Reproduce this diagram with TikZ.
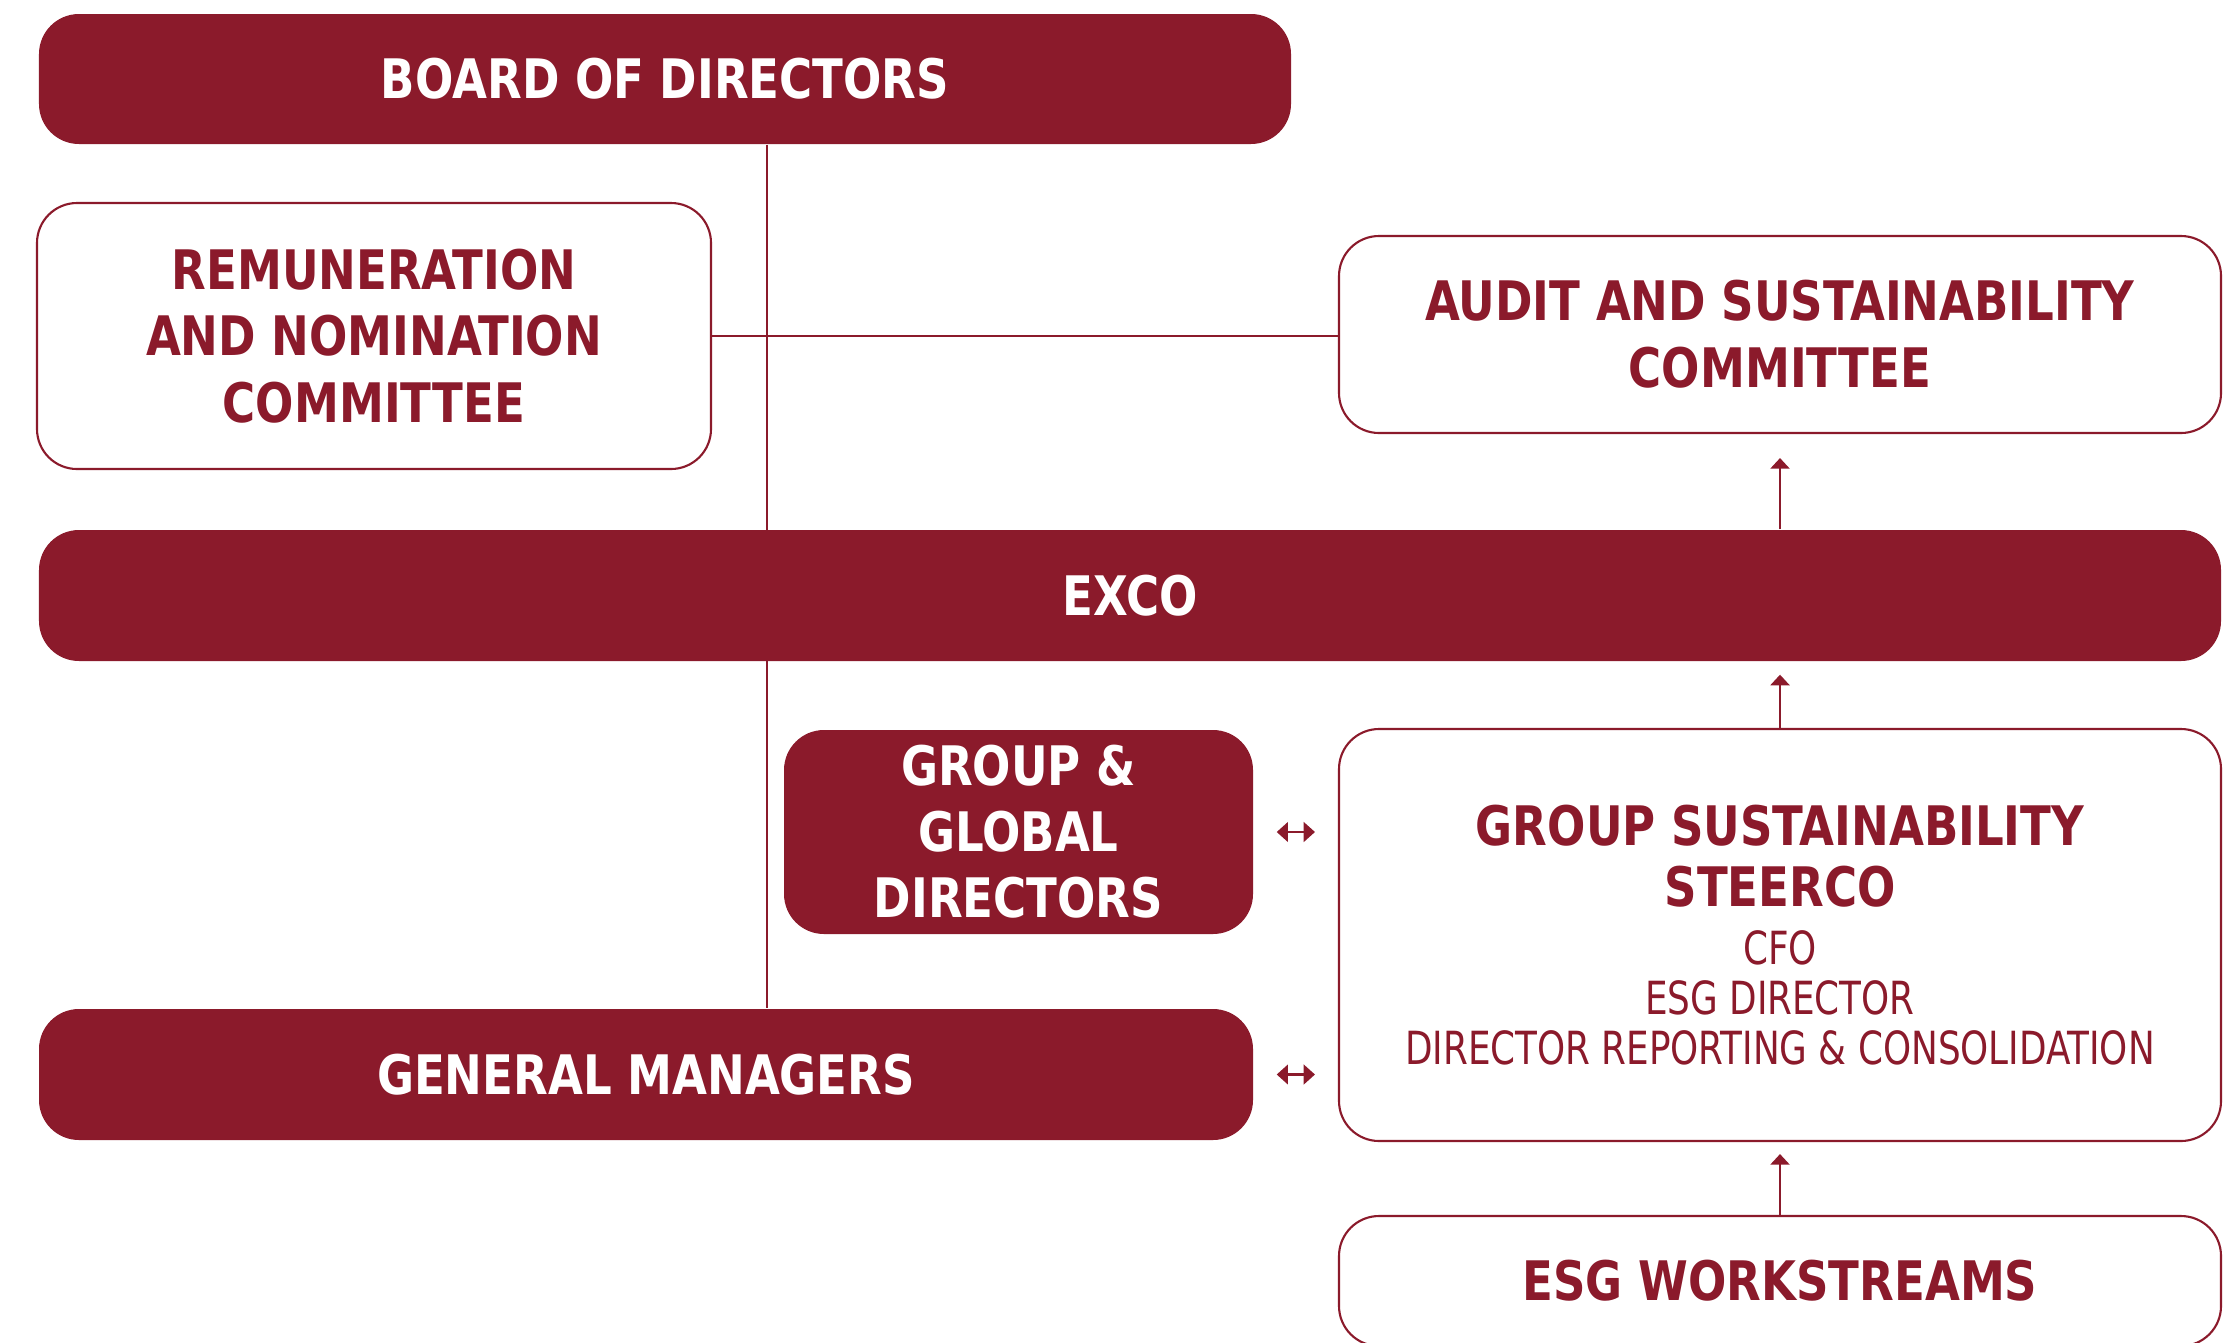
\documentclass[tikz,border=0pt]{standalone}
\usepackage{fontspec}
\setmainfont{DejaVu Sans Condensed}[FakeStretch=0.92]
\newfontfamily\namesfont{DejaVu Sans Condensed}[FakeStretch=0.87]
\usetikzlibrary{arrows.meta,
                positioning
            }
\definecolor{wine}{RGB}{139,26,43}

\begin{document}
\begin{tikzpicture}[
        solidbox/.style={fill=wine, text=white, rounded corners=0.4cm, align=center, inner sep=0pt,
                         font=\bfseries\fontsize{15.5}{19}\selectfont},
        openbox/.style={draw=wine, line width=0.6pt, fill=white, text=wine, rounded corners=0.4cm,
                        align=center, inner sep=0pt, font=\bfseries\fontsize{15.5}{19}\selectfont},
        link/.style={draw=wine, line width=0.6pt},
        upward/.style={link, -{Triangle[width=5.4pt, length=3pt]}},
        twoway/.style={link, {Triangle[width=5.6pt, length=3.2pt]}-{Triangle[width=5.6pt, length=3.2pt]},
                       shorten <=0.23cm, shorten >=0.23cm}
    ]
    \useasboundingbox (0, 0) rectangle (22.4, -13.42);

    \node[solidbox, minimum width=12.52cm, minimum height=1.3cm] (board) at (6.65, -0.79) {BOARD OF DIRECTORS};
    \node[openbox, minimum width=6.74cm, minimum height=2.66cm] (remun) at (3.74, -3.36) {REMUNERATION\\AND NOMINATION\\COMMITTEE};
    \node[openbox, minimum width=8.82cm, minimum height=1.97cm] (audit) at (17.8, -3.345) {AUDIT AND SUSTAINABILITY\\COMMITTEE};
    \node[solidbox, minimum width=21.82cm, minimum height=1.31cm] (exco) at (11.3, -5.955) {EXCO};
    \node[solidbox, minimum width=4.69cm, minimum height=2.04cm, font=\bfseries\fontsize{15.5}{18.8}\selectfont] (global) at (10.185, -8.32) {GROUP \&\\GLOBAL\\DIRECTORS};
    \node[openbox, minimum width=8.82cm, minimum height=4.12cm, font=\bfseries\fontsize{15.5}{17.4}\selectfont] (steerco) at (17.8, -9.35)
        {GROUP SUSTAINABILITY\\STEERCO\\[-1pt]
         {\namesfont\mdseries\fontsize{13}{14}\selectfont CFO}\\[-3.2pt]
         {\namesfont\mdseries\fontsize{13}{14}\selectfont ESG DIRECTOR}\\[-3.2pt]
         {\namesfont\mdseries\fontsize{13}{14}\selectfont DIRECTOR REPORTING \& CONSOLIDATION}};
    \node[solidbox, minimum width=12.14cm, minimum height=1.31cm] (managers) at (6.46, -10.745) {GENERAL MANAGERS};
    \node[openbox, minimum width=8.82cm, minimum height=1.3cm] (workstreams) at (17.8, -12.81) {ESG WORKSTREAMS};

    % reporting lines
    \coordinate (spine) at (7.67, 0);
    \draw[link] (board.south -| spine) -- (managers.north -| spine);
    \draw[link] (remun.east) -- (remun.east -| audit.west);
    \draw[upward, shorten >=0.24cm] (exco.north -| audit.south) -- (audit.south);
    \draw[upward, shorten >=0.13cm] (steerco.north) -- (steerco.north |- exco.south);
    \draw[upward, shorten >=0.12cm] (workstreams.north) -- (steerco.south);
    \draw[twoway] (global.east) -- (global.east -| steerco.west);
    \draw[twoway] (managers.east) -- (managers.east -| steerco.west);
\end{tikzpicture}
\end{document}
